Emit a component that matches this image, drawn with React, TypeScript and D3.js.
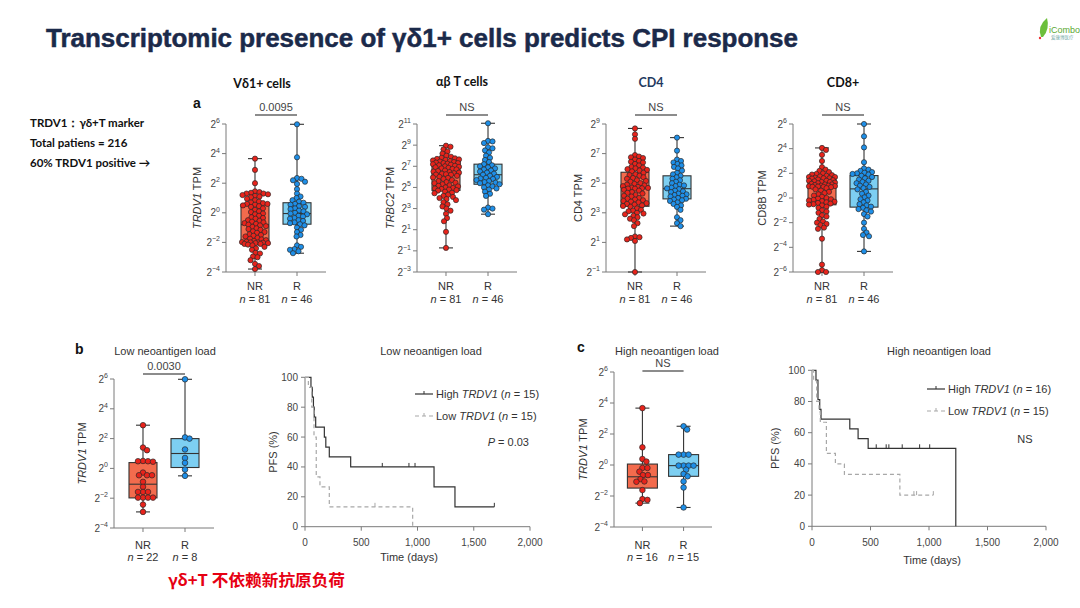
import React from "react";
import * as d3 from "d3";

// ================= DATA =================
const groups = ["NR", "R"];

// Panel a (log2 TPM values)
const vd1NR = [3.66, 2.9, 2.0, 1.45, 1.4, 1.35, 1.3, 1.3, 1.25, 1.2, 1.15, 1.1, 1.05, 0.95, 0.85, 0.75, 0.7, 0.65, 0.6, 0.6,
  0.55, 0.5, 0.45, 0.4, 0.3, 0.2, 0.1, 0.05, -0.05, -0.1, -0.2, -0.3, -0.35, -0.4, -0.5, -0.55, -0.6, -0.65, -0.7, -0.75,
  -0.8,
  -0.85, -0.9, -0.95, -1.05, -1.1, -1.15, -1.25, -1.3, -1.35, -1.45, -1.5, -1.55, -1.6, -1.7, -1.75, -1.8, -1.85, -1.9, -1.95, -1.98,
  -2.0, -2.0, -2.02, -2.05, -2.05, -2.1, -2.1, -2.15, -2.2, -2.3, -2.4, -2.5, -2.7, -2.75, -2.95, -3.0, -3.2, -3.45, -3.6, -3.8];
const vd1R = [5.98, 3.75, 2.35, 2.3, 2.2, 2.1, 1.95, 1.6, 1.3, 1.1, 1.0, 0.85, 0.75,
  0.68, 0.6, 0.55, 0.45, 0.4, 0.3, 0.25, 0.15, 0.1, 0.0, -0.05,
  -0.1, -0.2, -0.25, -0.35, -0.4, -0.5, -0.55, -0.65, -0.7, -0.77,
  -0.85, -1.0, -1.15, -1.3, -1.5, -1.6, -2.2, -2.3, -2.45, -2.5, -2.6, -2.73];
const trbc2NR = [8.95, 8.85, 8.6, 8.4, 8.2, 8.0, 7.9, 7.8, 7.75, 7.7, 7.65, 7.6, 7.55, 7.5, 7.45, 7.4, 7.35, 7.3, 7.3, 7.25,
  7.2, 7.15, 7.1, 7.05, 7.0, 6.95, 6.9, 6.85, 6.8, 6.75, 6.7, 6.6, 6.55, 6.5, 6.45, 6.4, 6.35, 6.3, 6.25, 6.22,
  6.2,
  6.1, 6.0, 5.95, 5.9, 5.8, 5.7, 5.6, 5.5, 5.45, 5.4, 5.3, 5.2, 5.15, 5.1, 5.0, 4.95, 4.9, 4.85, 4.8, 4.75,
  4.7, 4.6, 4.5, 4.45, 4.3, 4.2, 4.1, 4.0, 3.9, 3.8, 3.6, 3.4, 3.2, 3.0, 2.8, 2.5, 2.1, 1.8, 0.8, -0.72];
const trbc2R = [11.07, 9.4, 9.35, 9.2, 8.8, 8.7, 8.5, 8.3, 8.0, 7.8, 7.6, 7.4,
  7.2, 7.1, 7.0, 6.9, 6.8, 6.7, 6.6, 6.5, 6.4, 6.3, 6.2,
  6.1, 6.0, 5.9, 5.85, 5.8, 5.7, 5.6, 5.5, 5.45, 5.4, 5.3,
  5.2, 5.1, 5.0, 4.9, 4.8, 4.6, 4.4, 4.2, 3.1, 3.0, 2.9, 2.47];
const cd4NR = [8.7, 8.3, 8.0, 6.9, 6.8, 6.75, 6.7, 6.6, 6.5, 6.45, 6.4, 6.3, 6.2, 6.1, 6.05, 6.0, 5.95, 5.9, 5.85, 5.8,
  5.7, 5.6, 5.55, 5.5, 5.4, 5.35, 5.3, 5.2, 5.15, 5.1, 5.0, 4.95, 4.9, 4.85, 4.8, 4.75, 4.7, 4.68, 4.66, 4.64,
  4.63,
  4.55, 4.5, 4.4, 4.35, 4.3, 4.2, 4.15, 4.1, 4.0, 3.95, 3.9, 3.85, 3.8, 3.75, 3.7, 3.65, 3.6, 3.55, 3.5, 3.46,
  3.4, 3.3, 3.2, 3.15, 3.1, 3.0, 2.95, 2.9, 2.8, 2.7, 2.6, 2.5, 2.3, 2.1, 1.4, 1.35, 1.3, 1.2, 1.1, -1.0];
const cd4R = [8.08, 7.2, 6.6, 6.5, 6.4, 6.3, 6.2, 6.1, 6.0, 5.85, 5.7, 5.6,
  5.5, 5.4, 5.3, 5.2, 5.1, 5.0, 4.9, 4.85, 4.8, 4.7, 4.65,
  4.6, 4.5, 4.45, 4.4, 4.3, 4.25, 4.2, 4.15, 4.1, 4.0, 3.95,
  3.9, 3.85, 3.8, 3.7, 3.6, 3.5, 3.4, 3.2, 2.7, 2.5, 2.3, 2.1];
const cd8NR = [4.06, 3.9, 3.5, 3.0, 2.5, 2.3, 2.2, 2.1, 2.0, 1.95, 1.9, 1.85, 1.8, 1.75, 1.7, 1.7, 1.65, 1.6, 1.6, 1.57,
  1.5, 1.45, 1.4, 1.4, 1.35, 1.3, 1.3, 1.25, 1.2, 1.15, 1.1, 1.1, 1.05, 1.0, 1.0, 0.97, 0.95, 0.93, 0.91, 0.9,
  0.88,
  0.8, 0.7, 0.6, 0.5, 0.4, 0.3, 0.2, 0.1, 0.0, -0.05, -0.1, -0.15, -0.2, -0.25, -0.3, -0.35, -0.4, -0.45, -0.5, -0.53,
  -0.6, -0.7, -0.8, -1.0, -1.1, -1.2, -1.4, -1.5, -1.7, -1.9, -2.0, -2.1, -2.2, -2.4, -2.5, -3.3, -5.4, -5.85, -6.0, -6.0];
const cd8R = [6.0, 5.0, 4.1, 2.9, 2.4, 2.3, 2.2, 2.1, 2.05, 2.0, 1.95, 1.9,
  1.8, 1.7, 1.6, 1.5, 1.4, 1.3, 1.2, 1.1, 1.0, 0.9, 0.8,
  0.7, 0.5, 0.35, 0.2, 0.05, -0.1, -0.2, -0.35, -0.5, -0.6, -0.7,
  -0.8, -0.9, -1.0, -1.1, -1.3, -1.5, -2.0, -2.5, -2.8, -3.0, -3.1, -4.33];

// box statistics [min, q1, median, q3, max] (log2)
const vd1BoxNR = [-3.8, -2.0, -0.8, 0.57, 3.66];
const vd1BoxR = [-2.73, -0.77, -0.05, 0.68, 5.98];
const trbc2BoxNR = [-0.72, 4.72, 6.15, 7.49, 8.95];
const trbc2BoxR = [2.47, 5.3, 6.2, 7.2, 11.07];
const cd4BoxNR = [-1.0, 3.44, 4.63, 5.74, 8.7];
const cd4BoxR = [2.1, 3.94, 4.63, 5.5, 8.08];
const cd8BoxNR = [-6.0, -0.55, 0.88, 1.55, 4.06];
const cd8BoxR = [-4.33, -0.74, 0.74, 1.82, 6.0];

const topTitles = ["Vδ1+ cells", "αβ T cells", "CD4", "CD8+"];
const topGenes = ["TRDV1", "TRBC2", "CD4", "CD8B"];
const topPvals = ["0.0095", "NS", "NS", "NS"];
const topN = [81, 46];

// Panel b / c: TRDV1 by neoantigen load
const lowNR = [2.9, 1.4, 1.22, 0.5, 0.48, 0.48, 0.45, -0.28, -0.46, -0.46, -0.46, -0.9, -1.24, -1.58, -1.58, -1.58,
  -1.96, -1.96, -1.96, -1.96, -2.43, -2.92];
const lowR = [5.98, 2.08, 2.0, 1.27, 0.7, 0.37, -0.08, -0.5];
const lowBoxNR = [-2.92, -1.98, -1.06, 0.39, 2.9];
const lowBoxR = [-0.5, 0.06, 1.0, 2.0, 5.98];
const highNR = [3.67, 1.14, 0.39, 0.22, -0.19, -0.19, -0.43, -0.65, -0.65, -0.91, -1.08, -1.06, -1.62, -2.2, -2.25, -2.46];
const highR = [2.5, 2.29, 0.67, 0.67, 0.67, -0.04, -0.04, -0.04, -0.04, -0.3, -0.58, -0.73, -1.06, -1.45, -2.74];
const highBoxNR = [-2.46, -1.49, -0.76, 0.06, 3.67];
const highBoxR = [-2.74, -0.73, -0.04, 0.67, 2.5];

// Kaplan–Meier: low neoantigen load
const lowHighT = [0, 53, 65, 75, 82, 95, 172, 185, 216, 406, 1147, 1333, 1683];
const lowHighS = [100, 93.3, 86.7, 80, 73.3, 66.7, 60, 53.3, 46.7, 40, 26.7, 13.3, 13.3];
const lowHighCensor = [687, 924, 978, 1683];
const lowLowT = [0, 30, 60, 80, 100, 133, 216, 957];
const lowLowS = [100, 93.3, 80, 60, 33.3, 26.7, 13.3, 0];
const lowLowCensor = [622];
// Kaplan–Meier: high neoantigen load
const highHighT = [0, 34, 51, 66, 77, 323, 394, 480, 1229];
const highHighS = [100, 93.75, 81.25, 75, 68.75, 62.5, 56.25, 50, 0];
const highHighCensor = [549, 634, 657, 771, 920, 1006];
const highLowT = [0, 14, 40, 60, 71, 123, 200, 277, 751, 1037];
const highLowS = [100, 93.3, 80, 73.3, 66.7, 46.7, 40, 33.3, 20, 20];
const highLowCensor = [871, 894, 1037];

const kmXTicks = [0, 500, 1000, 1500, 2000];
const kmYTicks = [0, 20, 40, 60, 80, 100];

// ================= STYLE =================
const FIG = "'Liberation Sans', Arial, Helvetica, sans-serif";
const SLIDE = "Lato, 'Open Sans', 'Liberation Sans', sans-serif";
const boxFill = ["#f36b4d", "#7dcff2"];
const dotFill = ["#e8231b", "#1e8fe8"];
const AX = "#7a7a7a";
const TXT = "#444";

function swarm(vals: number[], y: (v: number) => number, r: number, maxHalf: number) {
  const pts = vals.map((v) => ({ v, y: y(v), dx: 0 })).sort((a, b) => a.y - b.y);
  const placed: { y: number; dx: number }[] = [];
  const d = 2 * r * 0.82;
  const steps = Math.floor(maxHalf / 0.5);
  for (const p of pts) {
    let best = 0;
    let bestScore = -Infinity;
    for (let k = 0; k <= 2 * steps; k++) {
      const off = (k % 2 === 1 ? 1 : -1) * Math.ceil(k / 2) * 0.5;
      let minD2 = Infinity;
      for (const q of placed) {
        const dy = q.y - p.y;
        if (Math.abs(dy) < d) {
          const ddx = q.dx - off;
          const dd = ddx * ddx + dy * dy;
          if (dd < minD2) minD2 = dd;
        }
      }
      if (minD2 >= d * d) { best = off; break; }
      if (minD2 > bestScore) { bestScore = minD2; best = off; }
    }
    p.dx = best;
    placed.push(p);
  }
  return pts;
}

function expLabel(e: number) {
  return (e < 0 ? "−" : "") + Math.abs(e);
}

type BoxProps = {
  axisX: number; yTop: number; yBot: number; expMin: number; expMax: number; width: number;
  vals: number[][]; boxes: number[][]; gene: string; geneItalic: boolean; labelX: number;
  sig: string; sigY: number; ns: number[]; nrY: number; nY: number; r: number; half: number;
};

function BoxPanel(p: BoxProps) {
  const y = d3.scaleLinear().domain([p.expMin, p.expMax]).range([p.yBot, p.yTop]);
  const x = d3.scalePoint<string>().domain(groups).range([p.axisX, p.axisX + p.width]).padding(0.69);
  const ticks = d3.range(p.expMin, p.expMax + 0.01, 2);
  const midY = (p.yTop + p.yBot) / 2;
  const xNR = x("NR")!, xR = x("R")!;
  return (
    <g fontFamily={FIG}>
      <line x1={p.axisX} x2={p.axisX} y1={p.yTop} y2={p.yBot} stroke={AX} strokeWidth={1} />
      <line x1={p.axisX} x2={p.axisX + p.width} y1={p.yBot} y2={p.yBot} stroke={AX} strokeWidth={1} />
      {ticks.map((e) => (
        <g key={e}>
          <line x1={p.axisX - 4} x2={p.axisX} y1={y(e)} y2={y(e)} stroke={AX} />
          <text x={p.axisX - 6} y={y(e) + 3.5} textAnchor="end" fontSize={10} fill={TXT}>
            2<tspan dy={-4.5} fontSize={7}>{expLabel(e)}</tspan>
          </text>
        </g>
      ))}
      {groups.map((g, i) => (
        <g key={g}>
          <line x1={x(g)} x2={x(g)} y1={p.yBot} y2={p.yBot + 4} stroke={AX} />
          <text x={x(g)} y={p.nrY} textAnchor="middle" fontSize={11} fill="#333">{g}</text>
          <text x={x(g)} y={p.nY} textAnchor="middle" fontSize={11} fill="#333">
            <tspan fontStyle="italic">n</tspan> = {p.ns[i]}
          </text>
        </g>
      ))}
      <text transform={`translate(${p.labelX + 4},${midY}) rotate(-90)`} textAnchor="middle" fontSize={11} fill="#333">
        <tspan fontStyle={p.geneItalic ? "italic" : "normal"}>{p.gene}</tspan> TPM
      </text>
      <line x1={xNR} x2={xR} y1={p.sigY} y2={p.sigY} stroke="#666" strokeWidth={1.3} />
      <text x={(xNR + xR) / 2} y={p.sigY - 4} textAnchor="middle" fontSize={11} fill={TXT}>{p.sig}</text>
      {groups.map((g, i) => {
        const [mn, q1, md, q3, mx] = p.boxes[i];
        const cx = x(g)!;
        return (
          <g key={g} stroke="#333" strokeWidth={1.1}>
            <line x1={cx} x2={cx} y1={y(mx)} y2={y(mn)} />
            <line x1={cx - 7} x2={cx + 7} y1={y(mx)} y2={y(mx)} />
            <line x1={cx - 7} x2={cx + 7} y1={y(mn)} y2={y(mn)} />
            <rect x={cx - p.half} width={p.half * 2} y={y(q3)} height={y(q1) - y(q3)} fill={boxFill[i]} />
            <line x1={cx - p.half} x2={cx + p.half} y1={y(md)} y2={y(md)} />
          </g>
        );
      })}
      {groups.map((g, i) => {
        const cx = x(g)!;
        const pts = swarm(p.vals[i], (v) => y(v), p.r, p.half - 1);
        return (
          <g key={g}>
            {pts.map((pt, j) => (
              <circle key={j} cx={cx + pt.dx} cy={pt.y} r={p.r} fill={dotFill[i]} stroke="#2a2a2a" strokeWidth={0.7} />
            ))}
          </g>
        );
      })}
    </g>
  );
}

type Curve = { t: number[]; s: number[]; censor: number[]; dashed: boolean; n: number; label: string };
type KMProps = {
  x0: number; x1: number; yTop: number; yBot: number; curves: Curve[];
  legX: number; legY: number[]; stat: React.ReactNode; statX: number; statY: number; statAnchor: string;
  yLabelX: number; xLabelX: number; xLabelY: number; tickLabelY: number;
};

function KMPanel(p: KMProps) {
  const x = d3.scaleLinear().domain([0, 2000]).range([p.x0, p.x1]);
  const y = d3.scaleLinear().domain([0, 100]).range([p.yBot, p.yTop]);
  const line = d3.line<[number, number]>().x((d) => x(d[0])).y((d) => y(d[1])).curve(d3.curveStepAfter);
  const fmt = d3.format(",");
  return (
    <g fontFamily={FIG}>
      <line x1={p.x0} x2={p.x0} y1={y(100)} y2={y(0)} stroke={AX} />
      <line x1={p.x0} x2={p.x1} y1={y(0)} y2={y(0)} stroke={AX} />
      {kmYTicks.map((v) => (
        <g key={v}>
          <line x1={p.x0 - 4} x2={p.x0} y1={y(v)} y2={y(v)} stroke={AX} />
          <text x={p.x0 - 7} y={y(v) + 3.5} textAnchor="end" fontSize={10} fill={TXT}>{v}</text>
        </g>
      ))}
      {kmXTicks.map((v) => (
        <g key={v}>
          <line x1={x(v)} x2={x(v)} y1={y(0)} y2={y(0) + 4} stroke={AX} />
          <text x={x(v)} y={p.tickLabelY} textAnchor="middle" fontSize={10} fill={TXT}>{fmt(v)}</text>
        </g>
      ))}
      <text x={p.xLabelX} y={p.xLabelY} textAnchor="middle" fontSize={11} fill="#333">Time (days)</text>
      <text transform={`translate(${p.yLabelX + 4},${(y(0) + y(100)) / 2}) rotate(-90)`} textAnchor="middle" fontSize={11} fill="#333">PFS (%)</text>
      {p.curves.map((c, i) => {
        const pts = c.t.map((t, k) => [t, c.s[k]] as [number, number]);
        const col = c.dashed ? "#a8a8a8" : "#333";
        return (
          <g key={i}>
            <path d={line(pts) || ""} fill="none" stroke={col} strokeWidth={1.2} strokeDasharray={c.dashed ? "4,3" : undefined} />
            {c.censor.map((ct, k) => {
              const idx = d3.bisectRight(c.t, ct) - 1;
              const sv = c.s[Math.max(0, idx)];
              return <line key={k} x1={x(ct)} x2={x(ct)} y1={y(sv)} y2={y(sv) - 4} stroke={col} strokeWidth={1} />;
            })}
            <line x1={p.legX} x2={p.legX + 18} y1={p.legY[i]} y2={p.legY[i]} stroke={col} strokeWidth={1.2} strokeDasharray={c.dashed ? "4,3" : undefined} />
            <line x1={p.legX + 9} x2={p.legX + 9} y1={p.legY[i]} y2={p.legY[i] - 3} stroke={col} />
            <text x={p.legX + 21} y={p.legY[i] + 4} fontSize={11} fill="#333">
              {c.label} <tspan fontStyle="italic">TRDV1</tspan> (<tspan fontStyle="italic">n</tspan> = {c.n})
            </text>
          </g>
        );
      })}
      <text x={p.statX} y={p.statY} textAnchor={p.statAnchor as any} fontSize={11} fill="#333">{p.stat}</text>
    </g>
  );
}

const topVals = [[vd1NR, vd1R], [trbc2NR, trbc2R], [cd4NR, cd4R], [cd8NR, cd8R]];
const topBoxes = [[vd1BoxNR, vd1BoxR], [trbc2BoxNR, trbc2BoxR], [cd4BoxNR, cd4BoxR], [cd8BoxNR, cd8BoxR]];
const topLayout = [
  { axisX: 226, labelX: 197, expMin: -4, expMax: 6, italic: true, titleX: 262, titleY: 88, titleColor: "#111" },
  { axisX: 417, labelX: 390, expMin: -3, expMax: 11, italic: true, titleX: 462, titleY: 86, titleColor: "#111" },
  { axisX: 606, labelX: 578, expMin: -1, expMax: 9, italic: false, titleX: 651, titleY: 87, titleColor: "#1f3a5f" },
  { axisX: 793, labelX: 762, expMin: -6, expMax: 6, italic: false, titleX: 843, titleY: 87, titleColor: "#111" },
];

export default function App() {
  return (
    <svg width={1080} height={608} viewBox="0 0 1080 608" style={{ position: "absolute", left: 0, top: 0, background: "#fff" }}>
      <rect width={1080} height={608} fill="#fff" />
      <text x={46} y={47} fontFamily="'Liberation Sans', Arial, sans-serif" fontWeight="bold" fontSize={25} fill="#1b2a4a"
        stroke="#1b2a4a" strokeWidth={0.5} textLength={752} lengthAdjust="spacingAndGlyphs">
        Transcriptomic presence of γδ1+ cells predicts CPI response
      </text>
      <g>
        <path d="M1041 37 Q1037 26 1047 18 Q1050 29 1043 37 Z" fill="#6cbf3a" />
        <circle cx={1040} cy={38} r={1.2} fill="#e33" />
        <text x={1049} y={33} fontFamily={FIG} fontSize={9} fill="#5aa832">iCombo</text>
        <text x={1051} y={39} fontFamily="'Noto Sans CJK SC', sans-serif" fontSize={4.5} fill="#7aa">爱康博医疗</text>
      </g>
      <g fontFamily={SLIDE} fontWeight="bold" fontSize={11.5} fill="#111">
        <text x={30} y={127}>TRDV1：γδ+T marker</text>
        <text x={30} y={147}>Total patiens = 216</text>
        <text x={30} y={167}>60% TRDV1 positive →</text>
      </g>
      <text x={193} y={108} fontFamily={FIG} fontWeight="bold" fontSize={14} fill="#111">a</text>
      {topLayout.map((L, i) => (
        <g key={i}>
          <text x={L.titleX} y={L.titleY} textAnchor="middle" fontFamily={SLIDE} fontWeight="bold" fontSize={12.5} fill={L.titleColor}>
            {topTitles[i]}
          </text>
          <BoxPanel axisX={L.axisX} yTop={124} yBot={272} expMin={L.expMin} expMax={L.expMax} width={100}
            vals={topVals[i]} boxes={topBoxes[i]} gene={topGenes[i]} geneItalic={L.italic} labelX={L.labelX}
            sig={topPvals[i]} sigY={115} ns={topN} nrY={290} nY={303} r={2.6} half={14} />
        </g>
      ))}
      <text x={75} y={354} fontFamily={FIG} fontWeight="bold" fontSize={14} fill="#111">b</text>
      <text x={165} y={355} textAnchor="middle" fontFamily={FIG} fontSize={11} fill="#333">Low neoantigen load</text>
      <BoxPanel axisX={114} yTop={379} yBot={528} expMin={-4} expMax={6} width={100}
        vals={[lowNR, lowR]} boxes={[lowBoxNR, lowBoxR]} gene="TRDV1" geneItalic={true} labelX={82}
        sig="0.0030" sigY={374} ns={[22, 8]} nrY={549} nY={561} r={2.8} half={14} />
      <text x={431} y={355} textAnchor="middle" fontFamily={FIG} fontSize={11} fill="#333">Low neoantigen load</text>
      <KMPanel x0={305} x1={530} yTop={377.3} yBot={526.7}
        curves={[
          { t: lowHighT, s: lowHighS, censor: lowHighCensor, dashed: false, n: 15, label: "High" },
          { t: lowLowT, s: lowLowS, censor: lowLowCensor, dashed: true, n: 15, label: "Low" },
        ]}
        legX={415} legY={[394, 416]} stat={<><tspan fontStyle="italic">P</tspan> = 0.03</>}
        statX={529} statY={446} statAnchor="end" yLabelX={273} xLabelX={409} xLabelY={561} tickLabelY={546} />
      <text x={577} y={352} fontFamily={FIG} fontWeight="bold" fontSize={14} fill="#111">c</text>
      <text x={667} y={355} textAnchor="middle" fontFamily={FIG} fontSize={11} fill="#333">High neoantigen load</text>
      <BoxPanel axisX={614} yTop={372} yBot={527} expMin={-4} expMax={6} width={98}
        vals={[highNR, highR]} boxes={[highBoxNR, highBoxR]} gene="TRDV1" geneItalic={true} labelX={583}
        sig="NS" sigY={371} ns={[16, 15]} nrY={549} nY={561} r={2.8} half={15} />
      <text x={939} y={355} textAnchor="middle" fontFamily={FIG} fontSize={11} fill="#333">High neoantigen load</text>
      <KMPanel x0={812} x1={1046} yTop={370.3} yBot={526.3}
        curves={[
          { t: highHighT, s: highHighS, censor: highHighCensor, dashed: false, n: 16, label: "High" },
          { t: highLowT, s: highLowS, censor: highLowCensor, dashed: true, n: 15, label: "Low" },
        ]}
        legX={927} legY={[389, 411]} stat="NS"
        statX={1025} statY={443} statAnchor="middle" yLabelX={775} xLabelX={932} xLabelY={564} tickLabelY={546} />
      <text x={168} y={586} fontFamily="'Noto Sans CJK SC', sans-serif" fontWeight="bold" fontSize={16} fill="#e60012"
        textLength={177} lengthAdjust="spacingAndGlyphs">
        γδ+T 不依赖新抗原负荷
      </text>
    </svg>
  );
}
